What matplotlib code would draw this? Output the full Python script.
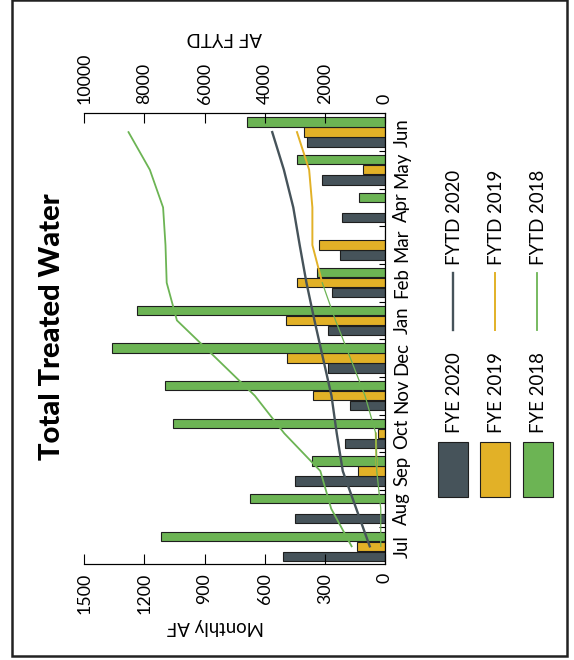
import numpy as np
import matplotlib
matplotlib.use("Agg")
import matplotlib.pyplot as plt
from matplotlib.patches import Rectangle
from matplotlib.lines import Line2D

# ----------------- data -----------------
months = ["Jul", "Aug", "Sep", "Oct", "Nov", "Dec",
          "Jan", "Feb", "Mar", "Apr", "May", "Jun"]

# monthly AF (bars)
fye2020 = [507, 449, 449, 200, 175, 283, 283, 266, 225, 213, 313, 387]
fye2019 = [141, 0, 133, 33, 358, 487, 494, 441, 328, 0, 108, 404]
fye2018 = [1119, 673, 366, 1056, 1098, 1364, 1239, 341, 0, 128, 437, 687]

# AF fiscal-year-to-date (lines)
fytd2020 = [507, 956, 1405, 1605, 1780, 2063, 2346, 2612, 2837, 3050, 3363, 3750]
fytd2019 = [141, 141, 274, 307, 665, 1152, 1646, 2087, 2415, 2415, 2523, 2927]
fytd2018 = [1110, 1790, 2150, 3350, 4330, 5620, 6920, 7260, 7300, 7380, 7820, 8530]

monthly_ticks = [0, 300, 600, 900, 1200, 1500]
fytd_ticks = [0, 2000, 4000, 6000, 8000, 10000]

# ----------------- style -----------------
C20 = "#46535a"
C19 = "#e2b127"
C18 = "#6cb454"
EDGE = "#1e1e1e"
FS_TICK = 12.8
FS = 13.4

plt.rcParams["font.family"] = ["Lato", "DejaVu Sans"]

W, H = 574, 660


def fx(x):
    return x / W


def fy(y):
    return 1 - y / H


fig = plt.figure(figsize=(W / 100, H / 100), dpi=100)

# whole chart is drawn turned 90 deg: months run bottom -> top
ax = fig.add_axes([fx(84.3), fy(564), (385 - 84.3) / W, (564 - 113.3) / H])
idx = np.arange(len(months))
off = 0.266
bh = 0.25
ax.barh(idx - off, fye2020, height=bh, color=C20, edgecolor=EDGE, lw=0.8)
ax.barh(idx, fye2019, height=bh, color=C19, edgecolor=EDGE, lw=0.8)
ax.barh(idx + off, fye2018, height=bh, color=C18, edgecolor=EDGE, lw=0.8)

ax.set_xlim(1500, 0)
ax.set_ylim(-0.47, 11.5)
ax.set_xticks(monthly_ticks)
ax.tick_params(axis="x", direction="in", length=7, width=0.8, pad=6.5,
               labelsize=FS_TICK, labelrotation=90)

ax.yaxis.tick_right()
ax.set_yticks(idx)
ax.set_yticklabels(months, rotation=90, va="center")
ax.set_yticks(np.arange(0.5, 11, 1), minor=True)
ax.tick_params(axis="y", which="major", length=0, pad=6, labelsize=FS)
ax.tick_params(axis="y", which="minor", direction="in", length=4,
               width=0.8, right=True, left=False)
ax.spines["left"].set_visible(False)
for s in ["top", "bottom", "right"]:
    ax.spines[s].set_linewidth(0.8)

# FYTD on the second axis
ax2 = ax.twiny()
ax2.set_xlim(10000, 0)
ax2.set_xticks(fytd_ticks)
ax2.tick_params(axis="x", direction="in", length=7, width=0.8, pad=7,
                labelsize=FS_TICK, labelrotation=90)
ax2.spines["left"].set_visible(False)
ax2.spines["top"].set_linewidth(0.8)

ax2.plot(fytd2018, idx, color=C18, lw=1.3, zorder=3)
# 2019 line shows thin green up to Feb, yellow afterwards (as in source)
ax2.plot(fytd2019[:8], idx[:8], color=C18, lw=0.9, zorder=4)
ax2.plot(fytd2019[7:], idx[7:], color=C19, lw=1.4, zorder=3)
ax2.plot(fytd2019[2:4], idx[2:4], color=C19, lw=1.4, zorder=3)
ax2.plot(fytd2020, idx, color=C20, lw=1.7, zorder=3)

# axis titles (upside down in the turned chart)
fig.text(fx(224), fy(38), "AF FYTD", rotation=180, ha="center", va="center",
         fontsize=FS)
fig.text(fx(215), fy(626), "Monthly AF", rotation=180, ha="center",
         va="center", fontsize=FS)

fig.text(fx(52.5), fy(326.7), "Total Treated Water", rotation=90,
         ha="center", va="center", fontsize=21, fontweight="black")

# ----------------- legend (manual, turned) -----------------
leg_bars = [("FYE 2020", C20, 438), ("FYE 2019", C19, 480), ("FYE 2018", C18, 523)]
for lab, col, x0 in leg_bars:
    fig.add_artist(Rectangle((fx(x0), fy(497)), 30 / W, 55 / H,
                             transform=fig.transFigure, facecolor=col,
                             edgecolor=EDGE, lw=0.8))
    fig.text(fx(x0 + 16), fy(433), lab, rotation=90, ha="center",
             va="bottom", fontsize=FS)

leg_lines = [("FYTD 2020", C20, 452.7, 1.7), ("FYTD 2019", C19, 495, 1.4),
             ("FYTD 2018", C18, 537.3, 1.3)]
for lab, col, x0, lw in leg_lines:
    fig.add_artist(Line2D([fx(x0), fx(x0)], [fy(273), fy(330)],
                          color=col, lw=lw, transform=fig.transFigure))
    fig.text(fx(x0 + 1.5), fy(265), lab, rotation=90, ha="center",
             va="bottom", fontsize=FS)

# frame
fig.add_artist(Rectangle((fx(11.5), fy(655.5)), (567 - 11.5) / W, 656 / H,
                         transform=fig.transFigure, fill=False,
                         edgecolor="#222222", lw=1.8))

fig.savefig("out.png", dpi=100)
